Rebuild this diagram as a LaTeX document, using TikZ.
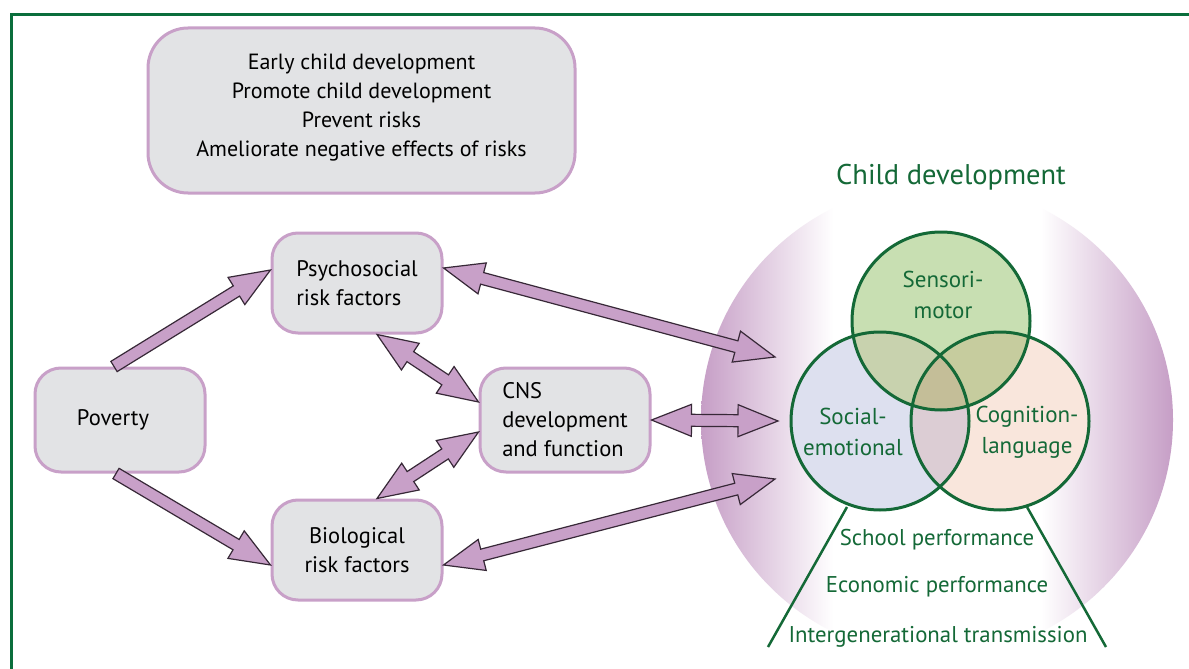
\documentclass[tikz,border=0pt]{standalone}
\usepackage{fontspec}
\setmainfont{PT Sans}
\usetikzlibrary{calc}
\definecolor{framegreen}{RGB}{10,110,60}
\definecolor{venngreen}{RGB}{20,105,55}
\definecolor{boxfill}{RGB}{226,227,229}
\definecolor{boxline}{RGB}{200,160,200}
\definecolor{arrfill}{RGB}{200,160,200}
\definecolor{arrline}{RGB}{55,40,55}
\definecolor{halo}{RGB}{198,158,198}
\definecolor{cSM}{RGB}{200,223,178}
\definecolor{cSE}{RGB}{221,224,239}
\definecolor{cCL}{RGB}{249,230,220}
\definecolor{cSMSE}{RGB}{200,210,174}
\definecolor{cSMCL}{RGB}{198,204,158}
\definecolor{cSECL}{RGB}{220,205,212}
\definecolor{cALL}{RGB}{196,190,152}
\pgfdeclarehorizontalshading{haloshade}{100bp}{color(0bp)=(halo); color(25bp)=(halo); color(39bp)=(white); color(61bp)=(white); color(75bp)=(halo); color(100bp)=(halo)}
\tikzset{
  box/.style={draw=boxline, line width=3pt, fill=boxfill, rounded corners=26pt, font=\fontsize{22.5}{29}\selectfont},
  gtext/.style={text=venngreen, font=\fontsize{22.8}{30}\selectfont},
  vtext/.style={text=venngreen, align=center, font=\fontsize{23}{31}\selectfont},
  arrowshape/.style={draw=arrline, fill=arrfill, line width=1.2pt, line join=miter},
  fatsingle/.style={arrowshape, to path={
    let \p1=(\tikztostart), \p2=(\tikztotarget),
        \n1={atan2(\y2-\y1,\x2-\x1)}, \n2={veclen(\x2-\x1,\y2-\y1)} in
    ($(\p1)+(\n1+90:6pt)$) --
    ($(\p1)+(\n1:{(\n2-40)*1pt})+(\n1+90:6pt)$) --
    ($(\p1)+(\n1:{(\n2-40)*1pt})+(\n1+90:16pt)$) --
    (\p2) --
    ($(\p1)+(\n1:{(\n2-40)*1pt})+(\n1-90:16pt)$) --
    ($(\p1)+(\n1:{(\n2-40)*1pt})+(\n1-90:6pt)$) --
    ($(\p1)+(\n1-90:6pt)$) -- cycle}},
  fatdouble/.style={arrowshape, to path={
    let \p1=(\tikztostart), \p2=(\tikztotarget),
        \n1={atan2(\y2-\y1,\x2-\x1)}, \n2={veclen(\x2-\x1,\y2-\y1)} in
    (\p1) --
    ($(\p1)+(\n1:40pt)+(\n1+90:16pt)$) --
    ($(\p1)+(\n1:40pt)+(\n1+90:6pt)$) --
    ($(\p1)+(\n1:{(\n2-40)*1pt})+(\n1+90:6pt)$) --
    ($(\p1)+(\n1:{(\n2-40)*1pt})+(\n1+90:16pt)$) --
    (\p2) --
    ($(\p1)+(\n1:{(\n2-40)*1pt})+(\n1-90:16pt)$) --
    ($(\p1)+(\n1:{(\n2-40)*1pt})+(\n1-90:6pt)$) --
    ($(\p1)+(\n1:40pt)+(\n1-90:6pt)$) --
    ($(\p1)+(\n1:40pt)+(\n1-90:16pt)$) -- cycle}},
}
\begin{document}
\begin{tikzpicture}[x=1pt,y=-1pt]
\useasboundingbox (0,0) rectangle (1189,669);
\fill[white] (0,0) rectangle (1189,669);
% frame
\draw[framegreen, line width=3pt] (11.5,669) -- (11.5,14.5) -- (1189,14.5);

% top box
\node[box, rounded corners=40pt, minimum width=427, minimum height=165, align=center, font=\fontsize{22}{29}\selectfont] (top) at (361.5,110.5)
  {Early child development\\Promote child development\\Prevent risks\\Ameliorate negative effects of risks\\[-19pt]};

% big halo circle
\shade[shading=haloshade] (937,420) circle[radius=236pt];
\node[text=venngreen, font=\fontsize{28.5}{32}\selectfont] (cdtitle) at (951,177) {Child development};

% Venn circles
\coordinate (cSM) at (941,321);
\coordinate (cSE) at (880,421);
\coordinate (cCL) at (1000,421);
\fill[cSM] (cSM) circle[radius=89pt];
\fill[cSE] (cSE) circle[radius=89pt];
\fill[cCL] (cCL) circle[radius=89pt];
\begin{scope}
  \clip (cSM) circle[radius=89pt];
  \fill[cSMSE] (cSE) circle[radius=89pt];
  \fill[cSMCL] (cCL) circle[radius=89pt];
\end{scope}
\begin{scope}
  \clip (cSE) circle[radius=89pt];
  \fill[cSECL] (cCL) circle[radius=89pt];
  \clip (cCL) circle[radius=89pt];
  \fill[cALL] (cSM) circle[radius=89pt];
\end{scope}
\draw[venngreen, line width=3pt] (cSM) circle[radius=89pt];
\draw[venngreen, line width=3pt] (cSE) circle[radius=89pt];
\draw[venngreen, line width=3pt] (cCL) circle[radius=89pt];

\node[vtext] (sm) at (943,295) {Sensori-\\motor};
\node[vtext] (se) at (853,432) {Social-\\emotional};
\node[vtext] (cl) at (1027,432) {Cognition-\\language};

% outcome lines
\coordinate (l1) at (847,507);
\coordinate (l2) at (768,647);
\coordinate (r1) at (1027,507);
\coordinate (r2) at (1106,647);
\draw[venngreen, line width=2.5pt] (l1) -- (l2);
\draw[venngreen, line width=2.5pt] (r1) -- (r2);
\node[gtext] (school) at (937,540) {School performance};
\node[gtext] (econ) at (937,587) {Economic performance};
\node[gtext] (inter) at (938,637) {Intergenerational transmission};

% left boxes
\node[box, minimum width=170, minimum height=104] (pov) at (120,420) {Poverty\hspace*{14pt}};
\node[box, minimum width=170, minimum height=100, align=left] (psy) at (357,283) {Psychosocial\\risk factors};
\node[box, minimum width=170, minimum height=104, align=left] (cns) at (565,420) {CNS\\development\\and function};
\node[box, minimum width=170, minimum height=100, align=center] (bio) at (357,550) {Biological\\risk factors};

% free ends at child development
\coordinate (t1) at (775,357);
\coordinate (t2) at (778,421);
\coordinate (t3) at (775,479);

% arrows
\draw[fatsingle] ([xshift=-6pt]pov.north) to ([yshift=13pt]psy.west);
\draw[fatsingle] ([xshift=-4pt]pov.south) to ([yshift=-15pt]bio.west);
\draw[fatdouble] ([xshift=20pt]psy.south) to ([yshift=18pt]cns.west);
\draw[fatdouble] ([xshift=20pt]bio.north) to ([yshift=-12pt]cns.west);
\draw[fatdouble] ([yshift=15pt]psy.east) to (t1);
\draw[fatdouble] (cns.east) to (t2);
\draw[fatdouble] ([yshift=-15pt]bio.east) to (t3);
\end{tikzpicture}
\end{document}
